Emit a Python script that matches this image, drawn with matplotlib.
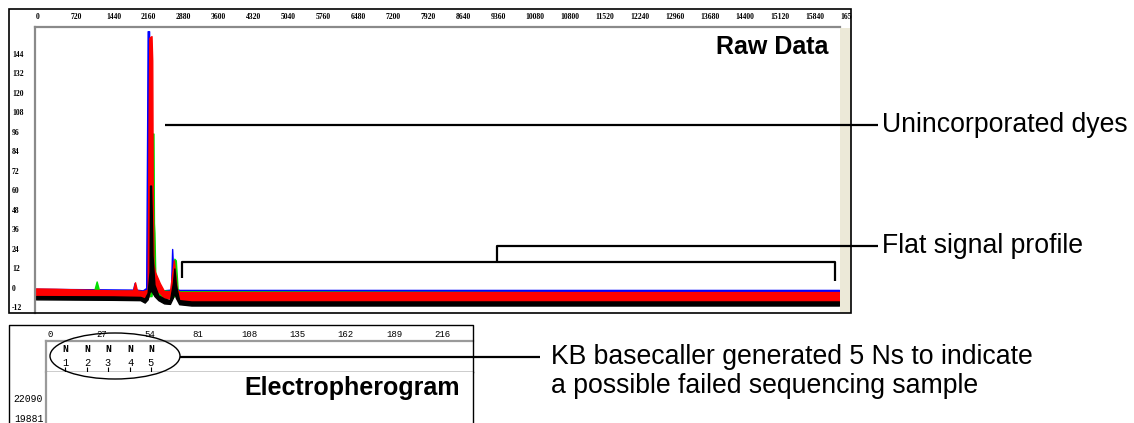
import matplotlib.pyplot as plt
from matplotlib.patches import Ellipse, Rectangle

W, H = 1134, 423

# raw data, one list per dye: scan number, lower and upper edge of the noisy trace (RFU)
blue_scan = [0, 2000, 2030, 2060, 2200, 2270, 2290, 2300, 2330, 2345, 2360, 2400, 2450, 2600, 2780, 2805, 2830, 2870, 2950, 16540]
blue_hi = [-0.5, -1, 3, -1, -1.5, 0, 100, 158, 158, 60, 20, 6, 2, -1.5, -1, 24, 8, 0, -1.2, -1.2]
blue_lo = [-4, -4.5, -4.5, -4.5, -4.5, -4.5, -2, 10, 20, 2, -1, -2, -3, -4.5, -4.5, -3, -3, -4, -4.5, -4.5]

green_scan = [0, 1200, 1250, 1300, 2300, 2380, 2395, 2420, 2430, 2440, 2460, 2500, 2800, 2850, 2880, 2920, 16540]
green_hi = [-1.5, -1.5, 4, -1.5, -2, 30, 95, 95, 40, 34, 5, -1, -2, 18, 17, -2, -3]
green_lo = [-5, -5, -5, -5, -5, -5, 0, 0, 0, 0, -3, -5, -6, -5, -3, -6, -6]

red_scan = [0, 400, 1000, 1600, 2000, 2040, 2080, 2200, 2300, 2320, 2335, 2380, 2395, 2405, 2420,
            2450, 2550, 2640, 2760, 2810, 2840, 2870, 2900, 2960, 3100, 16540]
red_hi = [-0.3, -0.5, -1, -1.5, -1.5, 3.5, -1.5, -2, -1, 100, 154, 155, 140, 60, 15,
          10, 3, -2, -2, 10, 17, 8, -1, -2.5, -2.5, -2.5]
red_lo = [-5, -5, -5.5, -5.5, -5.5, -5.5, -5.5, -6, -6, -5, -3, 0, 5, 3, 1,
          -1, -3, -6, -6.5, -5, -2, -4, -6, -8.5, -8.8, -8.8]

black_scan = [0, 1600, 2150, 2240, 2300, 2340, 2350, 2370, 2385, 2400, 2440, 2520, 2640, 2760, 2820, 2850, 2880, 2950, 3200, 16540]
black_hi = [-5, -5.2, -5.5, -6.5, -3, 10, 63, 63, 45, 20, 2, -4.5, -6.5, -7.5, 3, 12, 2, -7.5, -8.3, -8.3]
black_lo = [-7, -7.3, -7.5, -9, -7, -2, -2, -2, -2, -3, -5, -7.5, -9.5, -9.8, -6, -3, -6, -10, -10.8, -10.8]

scan_ticks = list(range(0, 16561, 720))
rfu_ticks = [-12, 0, 12, 24, 36, 48, 60, 72, 84, 96, 108, 120, 132, 144]

# electropherogram header: base positions and calls
base_ticks = [0, 27, 54, 81, 108, 135, 162, 189, 216]
base_pos = [9.5, 22, 33.5, 46, 57.5]
base_calls = ['N', 'N', 'N', 'N', 'N']
ep_ticks = [19881, 22090]

fig = plt.figure(figsize=(W / 100, H / 100), dpi=100)


def px_axes(left, top, right, bottom):
    return fig.add_axes([left / W, 1 - bottom / H, (right - left) / W, (bottom - top) / H])


# ---- raw data panel ----
ax = px_axes(35, 27, 840, 313)
ax.set_xlim(-20, 16540)
ax.set_ylim(-15.4, 160.6)
traces = [(blue_scan, blue_lo, blue_hi, '#0000ff'),
          (green_scan, green_lo, green_hi, '#00e000'),
          (red_scan, red_lo, red_hi, '#ff0000'),
          (black_scan, black_lo, black_hi, '#000000')]
for scan, lo, hi, col in traces:
    ax.fill_between(scan, lo, hi, facecolor=col, edgecolor=col, lw=1.0)

ax.set_xticks(scan_ticks)
ax.set_xticklabels([str(t) for t in scan_ticks], ha='left')
ax.set_yticks(rfu_ticks)
ax.set_yticklabels([str(t) for t in rfu_ticks], ha='left')
ax.xaxis.tick_top()
ax.tick_params(axis='x', length=0, pad=4, labelsize=5.5)
ax.tick_params(axis='y', length=0, pad=16.6, labelsize=5.5)
for lab in ax.get_xticklabels() + ax.get_yticklabels():
    lab.set_fontfamily('Liberation Serif')
    lab.set_fontweight('bold')
for side in ['right', 'bottom']:
    ax.spines[side].set_visible(False)
for side in ['left', 'top']:
    ax.spines[side].set_color('#8a8a8a')
    ax.spines[side].set_linewidth(1.6)
ax.text(0.985, 0.93, 'Raw Data', transform=ax.transAxes, ha='right', va='center',
        fontsize=18, fontweight='bold', family='Liberation Sans')

# ---- electropherogram header (base calls) ----
hx = px_axes(46, 341, 473, 372)
hx.set_xlim(-1.1, 237.6)
hx.set_ylim(0, 1)
hx.set_xticks(base_ticks)
hx.set_xticklabels([str(t) for t in base_ticks], ha='left', family='Liberation Mono', fontsize=6.5)
hx.xaxis.tick_top()
hx.tick_params(axis='x', length=0, pad=1.5)
hx.set_yticks([])
hx.spines['top'].set_color('#9a9a9a')
hx.spines['top'].set_linewidth(1.6)
hx.spines['left'].set_color('#9a9a9a')
hx.spines['left'].set_linewidth(1.6)
hx.spines['right'].set_visible(False)
hx.spines['bottom'].set_linewidth(1)
hx.vlines(base_pos, 0, 0.16, color='black', lw=0.8)
for i, (pos, call) in enumerate(zip(base_pos, base_calls), start=1):
    hx.text(pos, 0.74, call, ha='center', va='center', fontsize=7,
            fontweight='bold', family='Liberation Mono')
    hx.text(pos, 0.3, str(i), ha='center', va='center', fontsize=7.5, family='Liberation Mono')

# ---- electropherogram traces (cut off) ----
ex = px_axes(46, 372, 473, 423)
ex.set_xlim(-1.1, 237.6)
ex.set_ylim(19300, 24930)
ex.set_xticks([])
ex.set_yticks(ep_ticks)
ex.set_yticklabels([str(t) for t in ep_ticks], family='Liberation Mono', fontsize=7)
ex.tick_params(axis='y', length=0, pad=2)
for side in ['top', 'right', 'bottom']:
    ex.spines[side].set_visible(False)
ex.spines['left'].set_color('#9a9a9a')
ex.spines['left'].set_linewidth(1.6)
ex.text(0.97, 0.68, 'Electropherogram', transform=ex.transAxes, ha='right', va='center',
        fontsize=18, fontweight='bold', family='Liberation Sans')

# ---- frames, callouts and notes in pixel space ----
ov = fig.add_axes([0, 0, 1, 1], zorder=5)
ov.set_xlim(0, W)
ov.set_ylim(H, 0)
ov.axis('off')
ov.patch.set_alpha(0)

ov.add_patch(Rectangle((852, 10), 26, 16, facecolor='white', edgecolor='none'))
ov.add_patch(Rectangle((840, 28), 11, 285, facecolor='#ece9d8', edgecolor='none'))
ov.add_patch(Rectangle((9, 9), 842, 304, facecolor='none', edgecolor='black', lw=1.2))
ov.plot([9, 9, 473, 473], [H + 5, 325, 325, H + 5], color='black', lw=1)

ov.add_patch(Ellipse((115, 356), 130, 46, facecolor='none', edgecolor='black', lw=1))

kw = dict(color='black', lw=1.6, solid_capstyle='butt')
ov.plot([165, 878], [125, 125], **kw)
ov.plot([182, 182, 835, 835], [278, 262, 262, 281], **kw)
ov.plot([497, 497, 878], [262, 246, 246], **kw)
ov.plot([180, 540], [357, 357], **kw)

tkw = dict(family='Liberation Sans', fontsize=19.2, va='center', ha='left')
ov.text(882, 125, 'Unincorporated dyes', **tkw)
ov.text(882, 246, 'Flat signal profile', **tkw)
ov.text(551, 357, 'KB basecaller generated 5 Ns to indicate', **tkw)
ov.text(551, 386, 'a possible failed sequencing sample', **tkw)

fig.savefig('out.png', dpi=100)
